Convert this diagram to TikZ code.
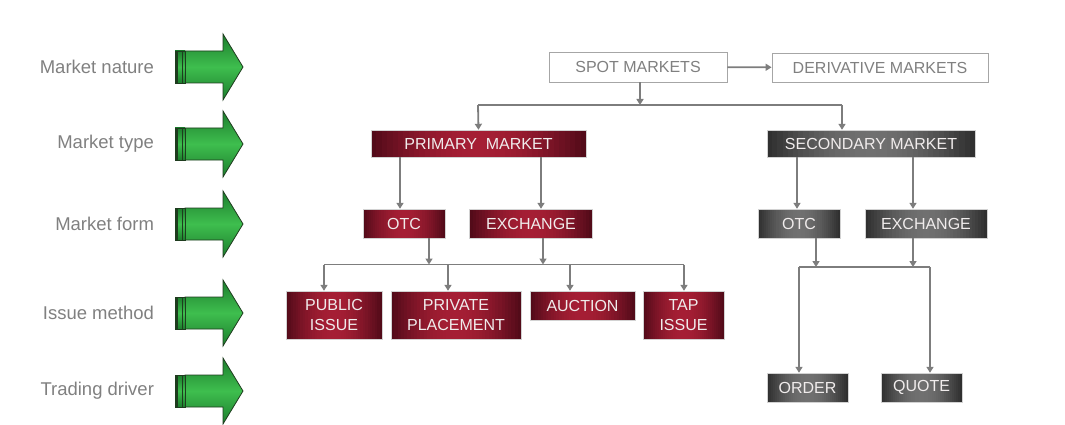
\documentclass[tikz,border=0pt]{standalone}
\usepackage{fontspec}
\setmainfont{Liberation Sans}
\usetikzlibrary{arrows.meta,calc}
\definecolor{redin}{RGB}{165,30,52}
\definecolor{redout}{RGB}{80,10,24}
\definecolor{grayin}{RGB}{112,112,112}
\definecolor{grayout}{RGB}{45,45,45}
\definecolor{lblgray}{RGB}{128,128,128}
\definecolor{linegray}{RGB}{125,125,125}
\definecolor{boxtext}{RGB}{240,236,236}
\definecolor{greenlt}{RGB}{62,190,78}
\definecolor{greendk}{RGB}{28,125,45}
\definecolor{greenedge}{RGB}{30,60,30}
\tikzset{
  lbl/.style={anchor=east,text=lblgray,font=\fontsize{18.5}{20}\selectfont},
  boxbase/.style={inner sep=0pt,align=center,font=\fontsize{16}{19.5}\selectfont},
  whitebox/.style={boxbase,draw=gray!70,line width=0.8pt,fill=white,text=lblgray},
  hgrad/.style 2 args={fill=#2,path picture={
    \foreach \i in {0,...,39}{
      \pgfmathsetmacro{\p}{100*sin(180*(\i+0.5)/40)}
      \fill[#1!\p!#2] ($(path picture bounding box.south west)!{\i/40}!(path picture bounding box.south east)$) rectangle ($(path picture bounding box.north west)!{(\i+1.1)/40}!(path picture bounding box.north east)$);
    }}},
  redbox/.style={boxbase,draw=gray!35,line width=0.4pt,hgrad={redin}{redout},text=boxtext},
  graybox/.style={boxbase,draw=gray!35,line width=0.4pt,hgrad={grayin}{grayout},text=boxtext},
  ln/.style={draw=linegray,line width=1.8pt},
  arr/.style={ln,-{Triangle[width=7pt,length=6pt]}},
  greenarrow/.style={draw=greenedge,line width=0.8pt,top color=greendk,bottom color=greendk,middle color=greenlt},
}
\begin{document}
\begin{tikzpicture}[x=1pt,y=1pt]
\useasboundingbox (0,0) rectangle (1065,-425);
% left labels and green arrows
\foreach \yy/\txt in {67/Market nature,144/Market type,224/Market form,313/Issue method,391/Trading driver}{
  \node[lbl] (l\yy) at (157.5,-\yy) {\txt};
  \path[greenarrow] (185,-\yy+16) -- (223,-\yy+16) -- (223,-\yy+33) -- (243,-\yy) -- (223,-\yy-33) -- (223,-\yy-16) -- (185,-\yy-16) -- cycle;
  \path[greenarrow] (175,-\yy+16) rectangle (185,-\yy-16);
  \draw[greenedge,line width=1.6pt] (177,-\yy+16) -- (177,-\yy-16);
  \draw[greenedge,line width=1.6pt] (182.5,-\yy+16) -- (182.5,-\yy-16);
}
% nodes
\node[whitebox,minimum width=178pt,minimum height=30pt] (spot) at (638,-67) {SPOT MARKETS};
\node[whitebox,minimum width=216pt,minimum height=29pt] (deriv) at (880,-67.5) {DERIVATIVE MARKETS};
\node[redbox,minimum width=215pt,minimum height=27pt] (prim) at (478.5,-143.5) {PRIMARY\ \ MARKET};
\node[graybox,minimum width=208pt,minimum height=27pt] (sec) at (871,-143.5) {SECONDARY MARKET};
\node[redbox,minimum width=82pt,minimum height=29pt] (otc1) at (404,-223.5) {OTC};
\node[redbox,minimum width=123pt,minimum height=29pt] (ex1) at (531,-223.5) {EXCHANGE};
\node[graybox,minimum width=82pt,minimum height=29pt] (otc2) at (799,-223.5) {OTC};
\node[graybox,minimum width=122pt,minimum height=29pt] (ex2) at (926,-223.5) {EXCHANGE};
\node[redbox,minimum width=96pt,minimum height=48pt] (pub) at (334,-315) {PUBLIC\\ISSUE};
\node[redbox,minimum width=130pt,minimum height=48pt] (priv) at (456,-315) {PRIVATE\\PLACEMENT};
\node[redbox,minimum width=105pt,minimum height=29pt] (auc) at (582.5,-305.5) {AUCTION};
\node[redbox,minimum width=81pt,minimum height=48pt] (tap) at (683.5,-315) {TAP\\ISSUE};
\node[graybox,minimum width=81pt,minimum height=29pt] (ord) at (807.5,-387.5) {ORDER};
\node[graybox,minimum width=81pt,minimum height=29pt] (quo) at (921.5,-387.5) {QUOTE};
% junction coordinates
\coordinate (hA) at (640,-105);
\coordinate (hAL) at (478,-105);
\coordinate (hAR) at (842,-105);
\coordinate (hB) at (429,-264.5);
\coordinate (hBE) at (543,-264.5);
\coordinate (hBL) at (324,-264.5);
\coordinate (hB2) at (448,-264.5);
\coordinate (hB3) at (570,-264.5);
\coordinate (hBR) at (684,-264.5);
\coordinate (hC) at (816,-267);
\coordinate (hCE) at (913,-267);
\coordinate (hCL) at (799,-267);
\coordinate (hCR) at (930,-267);
% connectors
\draw[arr] (spot) -- (deriv);
\draw[arr] (hA |- spot.south) -- (hA);
\draw[ln] (hAL) -- (hAR);
\draw[arr] (hAL) -- (prim.north);
\draw[arr] (hAR) -- (hAR |- sec.north);
\draw[arr] ([xshift=-4pt]otc1.north |- prim.south) -- ([xshift=-4pt]otc1.north);
\draw[arr] ([xshift=10pt]ex1.north |- prim.south) -- ([xshift=10pt]ex1.north);
\draw[arr] ([xshift=-2pt]otc2.north |- sec.south) -- ([xshift=-2pt]otc2.north);
\draw[arr] ([xshift=-13pt]ex2.north |- sec.south) -- ([xshift=-13pt]ex2.north);
\draw[arr] (hB |- otc1.south) -- (hB);
\draw[arr] (hBE |- ex1.south) -- (hBE);
\draw[ln] (hBL) -- (hBR);
\draw[arr] (hBL) -- (hBL |- pub.north);
\draw[arr] (hB2) -- (hB2 |- priv.north);
\draw[arr] (hB3) -- (hB3 |- auc.north);
\draw[arr] (hBR) -- (hBR |- tap.north);
\draw[arr] (hC |- otc2.south) -- (hC);
\draw[arr] (hCE |- ex2.south) -- (hCE);
\draw[ln] (hCL) -- (hCR);
\draw[arr] (hCL) -- (hCL |- ord.north);
\draw[arr] (hCR) -- (hCR |- quo.north);
\end{tikzpicture}
\end{document}
